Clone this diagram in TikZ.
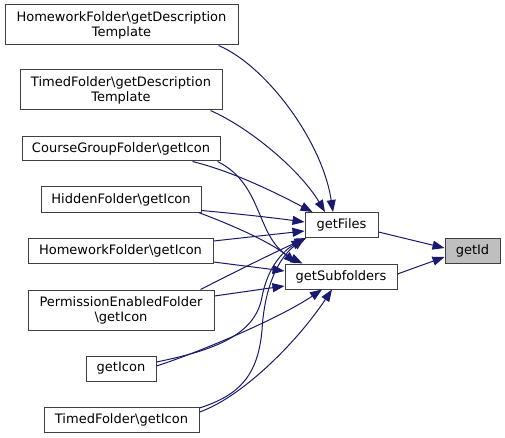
\documentclass[tikz,border=0pt]{standalone}
\usepackage{fontspec}
\setmainfont{DejaVu Sans}
\usetikzlibrary{arrows.meta,calc}
\definecolor{edgecol}{HTML}{191970}
\definecolor{bordercol}{HTML}{404040}
\definecolor{hlfill}{HTML}{BFBFBF}
\begin{document}
\begin{tikzpicture}[x=1pt,y=-1pt,
  box/.style={draw=bordercol,line width=1pt,fill=white,inner sep=0pt,align=center,font=\fontsize{13}{15}\selectfont},
  edge/.style={draw=edgecol,line width=1pt,-{Triangle[length=12pt,width=9pt]}}]
\fill[white] (0,0) rectangle (505,438);
\useasboundingbox (0,0) rectangle (505,438);
% nodes
\node[box,minimum width=233pt,minimum height=40pt] (hdt) at (121.5,25) {HomeworkFolder\textbackslash getDescription\\Template};
\node[box,minimum width=202pt,minimum height=40pt] (tdt) at (121,90) {TimedFolder\textbackslash getDescription\\Template};
\node[box,minimum width=198pt,minimum height=24pt] (cg) at (121,149) {CourseGroupFolder\textbackslash getIcon};
\node[box,minimum width=160pt,minimum height=25pt] (hid) at (121,199.5) {HiddenFolder\textbackslash getIcon};
\node[box,minimum width=185pt,minimum height=25pt] (hwi) at (120.5,250.5) {HomeworkFolder\textbackslash getIcon};
\node[box,minimum width=186pt,minimum height=40pt] (pef) at (121,310) {PermissionEnabledFolder\\\textbackslash getIcon};
\node[box,minimum width=70pt,minimum height=25pt] (gi) at (121,368.5) {getIcon};
\node[box,minimum width=155pt,minimum height=25pt] (tfi) at (121.5,419.5) {TimedFolder\textbackslash getIcon};
\node[box,minimum width=73pt,minimum height=25pt] (gf) at (341.5,225) {getFiles};
\node[box,minimum width=112pt,minimum height=25pt] (gs) at (341,276.5) {getSubfolders};
\node[box,fill=hlfill,minimum width=55pt,minimum height=25pt] (id) at (472.5,250.5) {getId};
% edges
\draw[edge] ($(gf.east)+(0,7)$) -- ($(id.west)+(0,-2.5)$);
\draw[edge] ($(gs.east)+(0,-2.5)$) -- ($(id.west)+(0,6.5)$);
\draw[edge] ($(hdt.south east)+(-20,0)$) .. controls (265,65) and (322,140) .. ($(gf.north)+(-8.5,0)$);
\draw[edge] ($(tdt.south east)+(-12,0)$) .. controls (250,128) and (300,170) .. ($(gf.north)+(-16.5,0)$);
\draw[edge] ($(cg.south east)+(-28,0)$) .. controls (235,172) and (280,195) .. ($(gf.north west)+(8,0)$);
\draw[edge] ($(cg.south east)+(-3,0)$) .. controls (265,185) and (255,240) .. ($(gs.north west)+(18,0)$);
\draw[edge] ($(hid.south east)+(0,-2)$) .. controls (240,214) and (275,218) .. ($(gf.west)+(0,-3)$);
\draw[edge] ($(hid.south east)+(-3,0)$) .. controls (240,228) and (275,245) .. ($(gs.north west)+(11,0)$);
\draw[edge] ($(hwi.east)+(0,-9.5)$) -- ($(gf.west)+(0,6)$);
\draw[edge] ($(hwi.east)+(0,11.5)$) -- ($(gs.west)+(0,-5.5)$);
\draw[edge] ($(pef.north east)+(-14,0)$) .. controls (235,272) and (275,252) .. ($(gf.south west)+(2,0)$);
\draw[edge] ($(pef.east)+(0,-14)$) -- ($(gs.west)+(0,9.5)$);
\draw[edge] ($(gi.east)+(0,-6.5)$) .. controls (215,350) and (255,335) .. (262,297) .. controls (268,265) and (285,250) .. ($(gf.south west)+(-1,1)$);
\draw[edge] ($(gi.east)+(0,-2.5)$) .. controls (200,352) and (280,318) .. ($(gs.south)+(-19,0)$);
\draw[edge] ($(tfi.east)+(0,-11.5)$) .. controls (240,395) and (258,375) .. (262,330) .. controls (265,280) and (282,255) .. ($(gf.south west)+(0,0.5)$);
\draw[edge] ($(tfi.east)+(0,-7.5)$) .. controls (240,398) and (295,345) .. ($(gs.south)+(-9,0)$);
\end{tikzpicture}
\end{document}
